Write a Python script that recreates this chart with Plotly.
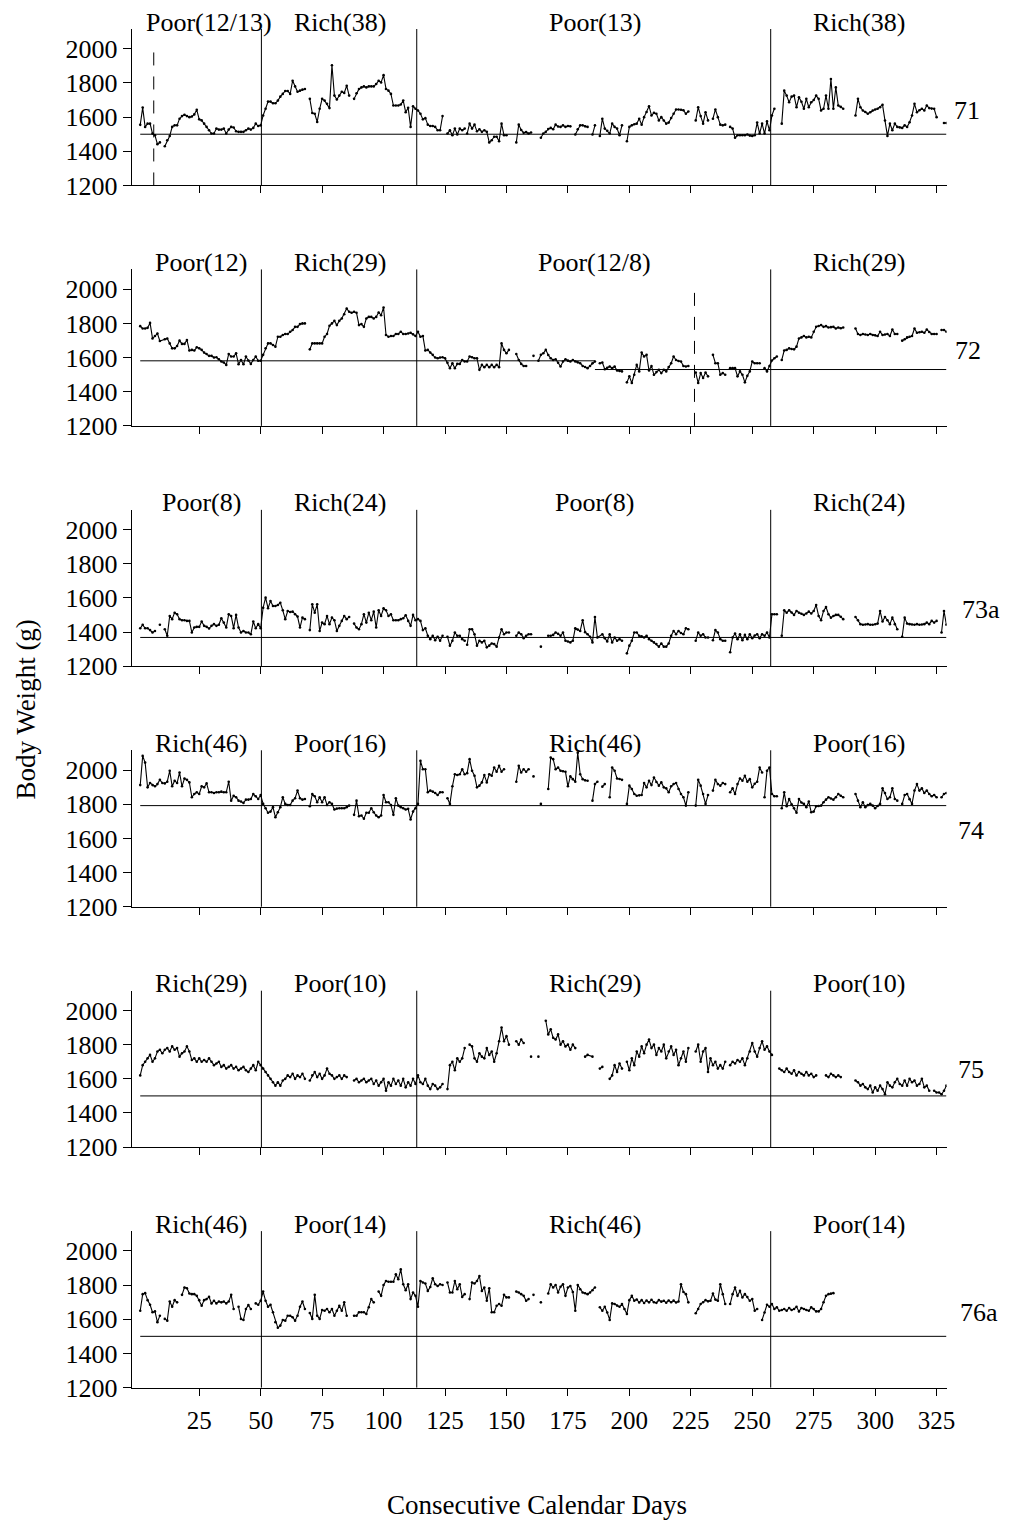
import plotly.graph_objects as go

# ---------------------------------------------------------------------------
# Daily body weight (g) of six animals, grouped in runs of consecutive
# weighings; a new run starts after days with no weighing.
# ---------------------------------------------------------------------------
bw_71 = [
    [(1,1555),(2,1656),(3,1542),(4,1562),(5,1562),(6,1504),(7,1494),(8,1442),(9,1452)],
    [(11,1430),(12,1465),(13,1490),(14,1543),(15,1552),(16,1552),(17,1591),(18,1606),(19,1614),(20,1606),
     (21,1600),(22,1604),(23,1616),(24,1643),(25,1587),(26,1581),(27,1562),(28,1543),(29,1523),(30,1504),
     (31,1504),(32,1533),(33,1527),(34,1527),(35,1533),(36,1504),(37,1527),(38,1543),(39,1539),(40,1517),
     (41,1514),(42,1514),(43,1514),(44,1523),(45,1533),(46,1527),(47,1537),(48,1562),(49,1548),(50,1552),
     (51,1610),(52,1649),(53,1691),(54,1691),(55,1681),(56,1681),(57,1697),(58,1720),(59,1736),(60,1753),
     (61,1753),(62,1736),(63,1813),(64,1780),(65,1749),(66,1755),(67,1761),(68,1765)],
    [(70,1707),(71,1624),(72,1620),(73,1572),(74,1649),(75,1707),(76,1697),(77,1678),(78,1653),(79,1904),
     (80,1726),(81,1703),(82,1726),(83,1749),(84,1742),(85,1784),(86,1726)],
    [(88,1707),(89,1740),(90,1765),(91,1774),(92,1780),(93,1774),(94,1780),(95,1780),(96,1780),(97,1794),
     (98,1813),(99,1803),(100,1846),(101,1765),(102,1755),(103,1736),(104,1668),(105,1668),(106,1668),
     (107,1674),(108,1697),(109,1629),(110,1655),(111,1543),(112,1664),(113,1649),(114,1639),(115,1620),
     (116,1587),(117,1594),(118,1556),(119,1548),(120,1548),(121,1543),(122,1523),(123,1523),(124,1606)],
    [(126,1504),(127,1523),(128,1494),(129,1533),(130,1498),(131,1533),(132,1523),(133,1533)],
    [(134,1504),(135,1562),(136,1533),(137,1556),(138,1517),(139,1529),(140,1514),(141,1523),(142,1514),
     (143,1452),(144,1465),(145,1485),(146,1485),(147,1459),(148,1562),(149,1494),(150,1494)],
    [(154,1452),(155,1556),(156,1525),(157,1508),(158,1512),(159,1504),(160,1510)],
    [(164,1479),(165,1504),(166,1514),(167,1530),(168,1537),(169,1529),(170,1556),(171,1545),(172,1543),
     (173,1552),(174,1543),(175,1548),(176,1546)],
    [(178,1498),(179,1529),(180,1552),(181,1552),(182,1546),(183,1543)],
    [(185,1498),(186,1552)],
    [(188,1490),(189,1591),(190,1533),(191,1520),(192,1504),(193,1562),(194,1543),(195,1533),(196,1494),(197,1552)],
    [(199,1459),(200,1543),(201,1552),(202,1558),(203,1562),(204,1591),(205,1556),(206,1600),(207,1630),
     (208,1664),(209,1610),(210,1625),(211,1620),(212,1581),(213,1600),(214,1580),(215,1562),(216,1568),
     (217,1595),(218,1620),(219,1645),(220,1645),(221,1643),(222,1640),(223,1620),(224,1633)],
    [(227,1581),(228,1658),(229,1606),(230,1562),(231,1629),(232,1581)],
    [(234,1591),(235,1645),(236,1600),(237,1556),(238,1552),(239,1556)],
    [(241,1543),(242,1533),(243,1479),(244,1494),(245,1494),(246,1494),(247,1494),(248,1498),(249,1492),
     (250,1490),(251,1494),(252,1568),(253,1504),(254,1562),(255,1504),(256,1575),(257,1523),(258,1610),(259,1649)],
    [(262,1562),(263,1755),(264,1726),(265,1687),(266,1720),(267,1726),(268,1658),(269,1716),(270,1690),
     (271,1649),(272,1707),(273,1658),(274,1687),(275,1700),(276,1726),(277,1707),(278,1639),(279,1649),
     (280,1726),(281,1649),(282,1823),(283,1649),(284,1774),(285,1668),(286,1660),(287,1649)],
    [(292,1610),(293,1707),(294,1658),(295,1639),(296,1630),(297,1620),(298,1629),(299,1639),(300,1645),
     (301,1649),(302,1658),(303,1672),(304,1580),(305,1490),(306,1562),(307,1523),(308,1562),(309,1543),
     (310,1540),(311,1537),(312,1552),(313,1543),(314,1570),(315,1610),(316,1678),(317,1629),(318,1640),
     (319,1649),(320,1639),(321,1668),(322,1653),(323,1650),(324,1649),(325,1600)],
    [(328,1566),(329,1566)],
]

bw_72 = [
    [(1,1784),(2,1770),(3,1770),(4,1774),(5,1803),(6,1712),(7,1726),(8,1741),(9,1697),(11,1707),(12,1712),
     (13,1683),(14,1654),(15,1654),(16,1668),(17,1699),(18,1680),(19,1680),(20,1703),(21,1641),(22,1645),
     (23,1641),(24,1660),(25,1654),(26,1645),(27,1629),(28,1621),(29,1610),(30,1610),(31,1600),(32,1602),
     (33,1590),(34,1577),(35,1571),(36,1557),(37,1621),(38,1606),(39,1606),(40,1625),(41,1561),(42,1586),
     (43,1561),(44,1606),(45,1583),(46,1563),(47,1586),(48,1606),(49,1581),(50,1581),(51,1616),(52,1654),
     (53,1683),(54,1683),(55,1674),(56,1664),(57,1722),(58,1722),(59,1732),(60,1738),(61,1738),(62,1751),
     (63,1761),(64,1780),(65,1780),(66,1796),(67,1800),(68,1800)],
    [(70,1648),(71,1683),(72,1683),(73,1683),(74,1683),(75,1683),(76,1722),(77,1738),(78,1786),(79,1800),
     (80,1815),(81,1790),(82,1815),(83,1829),(84,1854),(85,1887),(86,1868),(87,1862),(88,1868),(89,1862),
     (90,1790),(91,1796),(92,1780),(93,1829),(94,1838),(95,1838),(96,1829),(97,1838),(98,1864),(99,1848),
     (100,1893),(101,1732),(102,1722),(103,1726),(104,1726),(105,1738),(106,1738),(107,1751),(108,1738),
     (109,1738),(110,1741),(111,1745),(112,1736),(113,1726),(114,1751),(115,1722),(116,1726),(117,1641),
     (118,1645),(119,1629),(120,1616),(121,1600),(122,1596),(123,1600),(124,1602),(125,1596),(126,1570),
     (127,1538),(128,1567),(129,1538),(130,1563),(131,1563),(132,1586),(133,1577),(134,1577),(135,1606),
     (136,1602),(137,1596),(138,1596),(139,1528),(140,1557),(141,1544),(142,1557),(143,1544),(144,1557),
     (145,1544),(146,1557),(147,1544),(148,1683),(149,1645),(150,1625),(151,1645)],
    [(154,1621),(155,1586),(156,1563),(157,1551),(158,1551)],
    [(161,1610)],
    [(163,1581),(164,1616),(165,1625),(166,1645),(167,1615),(168,1596),(169,1586),(170,1590),(171,1570),
     (172,1548),(173,1577),(174,1590),(175,1582),(176,1577),(177,1586),(178,1577),(179,1572),(180,1567),
     (181,1551),(182,1545),(183,1538),(184,1551),(185,1567),(186,1577)],
    [(188,1567),(189,1571),(190,1532),(191,1540),(192,1548),(193,1538),(194,1548),(195,1524),(196,1522),(197,1519)],
    [(199,1455),(200,1490),(201,1451),(202,1499),(203,1557),(204,1519),(205,1629),(206,1606),(207,1616),
     (208,1524),(209,1551),(210,1499),(211,1515),(212,1528),(213,1509),(214,1528),(215,1519),(216,1545),
     (217,1567),(218,1606),(219,1586),(220,1580),(221,1577),(222,1551),(223,1548),(224,1551)],
    [(227,1513),(228,1451),(229,1509),(230,1480),(231,1513),(232,1490)],
    [(234,1616),(235,1567),(236,1567),(237,1499),(238,1509),(239,1499)],
    [(241,1538),(242,1538),(243,1538),(244,1490),(245,1519),(246,1499),(247,1455),(248,1493),(249,1519),
     (250,1577),(251,1567),(252,1567),(253,1567)],
    [(255,1538),(256,1519),(257,1551),(258,1583),(259,1596),(260,1606)],
    [(262,1586),(263,1641),(264,1645),(265,1654),(266,1650),(267,1648),(268,1664),(269,1712),(270,1718),
     (271,1726),(272,1718),(273,1722),(274,1718),(275,1751),(276,1780),(277,1785),(278,1790),(279,1780),
     (280,1784),(281,1776),(282,1778),(283,1780),(284,1770),(285,1776),(286,1772),(287,1776)],
    [(292,1770),(293,1738),(294,1732),(295,1738),(296,1735),(297,1732),(298,1738),(299,1732),(300,1730),
     (301,1726),(302,1751),(303,1732),(304,1735),(305,1738),(306,1726),(307,1764),(308,1738),(309,1738)],
    [(311,1699),(312,1707),(313,1718),(314,1722),(315,1726),(316,1770),(317,1745),(318,1748),(319,1751),
     (320,1745),(321,1764),(322,1750),(323,1738),(324,1738),(325,1738)],
    [(327,1761),(328,1761),(329,1751)],
]

bw_73a = [
    [(1,1423),(2,1443),(3,1423),(4,1423),(5,1412),(6,1398),(7,1407)],
    [(9,1443)],
    [(11,1417),(12,1379),(13,1495),(14,1476),(15,1514),(16,1505),(17,1476),(18,1470),(19,1470),(20,1466),
     (21,1466),(22,1398),(23,1427),(24,1431),(25,1431),(26,1462),(27,1437),(28,1431),(29,1421),(30,1437),
     (31,1447),(32,1437),(33,1443),(34,1481),(35,1456),(36,1427),(37,1505),(38,1495),(39,1423),(40,1501),
     (41,1427),(42,1398),(43,1407),(44,1398),(45,1398),(46,1388),(47,1462),(48,1423),(49,1447),(50,1423),
     (51,1543),(52,1602),(53,1540),(54,1582),(55,1553),(56,1553),(57,1559),(58,1572),(59,1528),(60,1476),
     (61,1524),(62,1518),(63,1520),(64,1505),(65,1491),(66,1427),(67,1485),(68,1476)],
    [(70,1412),(71,1563),(72,1514),(73,1563),(74,1407),(75,1456),(76,1447),(77,1495),(78,1447),(79,1485),
     (80,1470),(81,1407),(82,1437),(83,1466),(84,1495),(85,1476),(86,1489)],
    [(88,1450),(89,1427),(90,1417),(91,1447),(92,1505),(93,1456),(94,1514),(95,1470),(96,1520),(97,1427),
     (98,1528),(99,1495),(100,1540),(101,1528),(102,1495),(103,1505),(104,1470),(105,1470),(106,1470),
     (107,1476),(108,1481),(109,1499),(110,1466),(111,1437),(112,1501),(113,1470),(114,1476),(115,1466),
     (116,1412),(117,1423),(118,1379),(119,1359),(120,1379),(121,1353),(122,1373),(123,1350),(124,1379)],
    [(126,1373),(127,1321),(128,1350),(129,1398),(130,1379),(131,1379),(132,1359),(133,1350)],
    [(134,1326),(135,1417),(136,1417),(137,1388),(138,1321),(139,1350),(140,1340),(141,1350),(142,1311),
     (143,1321),(144,1334),(145,1330),(146,1315),(147,1369),(148,1417),(149,1388),(150,1398),(151,1398)],
    [(154,1379),(155,1398),(156,1388),(157,1365),(158,1379),(159,1388),(160,1388)],
    [(164,1315)],
    [(167,1379),(168,1379),(169,1384),(170,1398),(171,1390),(172,1379),(173,1398),(174,1350),(175,1345),
     (176,1340),(177,1350),(178,1423),(179,1415),(180,1407),(181,1470),(182,1400),(183,1388),(184,1373),
     (185,1340),(186,1489),(187,1369),(189,1388),(190,1365),(191,1346),(192,1388),(193,1340),(194,1369),
     (195,1350),(196,1359),(197,1350)],
    [(199,1276),(200,1321),(201,1350),(202,1398),(203,1398),(204,1379),(205,1375),(206,1369),(207,1379),
     (208,1359),(209,1350),(210,1340),(211,1330),(212,1315),(213,1334),(214,1315),(215,1315),(216,1334),
     (217,1379),(218,1407),(219,1388),(220,1407),(221,1395),(222,1388),(223,1423),(224,1417)],
    [(227,1350),(228,1398),(229,1379),(230,1388),(231,1369),(232,1369)],
    [(234,1353),(235,1412),(236,1398),(237,1359),(238,1350),(239,1350)],
    [(241,1282),(242,1369),(243,1392),(244,1359),(245,1388),(246,1353),(247,1384),(248,1359),(249,1388),
     (250,1365),(251,1380),(252,1388),(253,1365),(254,1388),(255,1379),(256,1398),(257,1369),(258,1505),
     (259,1505),(260,1505)],
    [(262,1379),(263,1528),(264,1514),(265,1528),(266,1515),(267,1501),(268,1524),(269,1514),(270,1508),
     (271,1501),(272,1509),(273,1520),(274,1509),(275,1524),(276,1559),(277,1495),(278,1470),(279,1524),
     (280,1547),(281,1505),(282,1485),(283,1495),(284,1501),(285,1501),(286,1490),(287,1476)],
    [(292,1489),(293,1470),(294,1447),(295,1443),(296,1445),(297,1447),(298,1443),(299,1443),(300,1446),
     (301,1450),(302,1524),(303,1462),(304,1489),(305,1470),(306,1447),(307,1485),(308,1447),(309,1417)],
    [(311,1373),(312,1485),(313,1450),(314,1447),(315,1445),(316,1443),(317,1447),(318,1443),(319,1445),
     (320,1447),(321,1456),(322,1447),(323,1466),(324,1456),(325,1466)],
    [(327,1398),(328,1524),(329,1443)],
]

bw_74 = [
    [(1,1912),(2,2083),(3,2044),(4,1899),(5,1924),(6,1912),(7,1905),(8,1918),(9,1943),(10,1924),(11,1922),
     (12,1932),(13,1996),(14,1905),(15,1938),(16,1924),(17,1986),(18,1905),(19,1951),(20,1943),(21,1928),
     (22,1841),(23,1860),(24,1870),(25,1860),(26,1905),(27,1899),(28,1922),(29,1870),(30,1870),(31,1866),
     (32,1870),(33,1870),(34,1874),(35,1870),(36,1870),(37,1932),(38,1821),(39,1850),(40,1841),(41,1821),
     (42,1816),(43,1808),(44,1827),(45,1827),(46,1831),(47,1860),(48,1847),(49,1831),(50,1854),(51,1802),
     (52,1777),(53,1750),(54,1757),(55,1783),(56,1724),(57,1753),(58,1783),(59,1841),(60,1802),(61,1796),
     (62,1796),(63,1821),(64,1835),(65,1880),(66,1835),(67,1827),(68,1831)],
    [(70,1788),(71,1860),(72,1847),(73,1812),(74,1841),(75,1812),(76,1841),(77,1796),(78,1812),(79,1802),
     (80,1769),(81,1775),(82,1777),(83,1777),(84,1777),(85,1783),(86,1792)],
    [(88,1738),(89,1821),(90,1730),(91,1734),(92,1715),(93,1750),(94,1750),(95,1777),(96,1753),(97,1734),
     (98,1724),(99,1734),(100,1854),(101,1812),(102,1812),(103,1796),(104,1738),(105,1835),(106,1792),
     (107,1783),(108,1777),(109,1769),(110,1773),(111,1711),(112,1757),(113,1777),(114,1802),(115,2054),
     (116,2005),(117,2005),(118,1870),(119,1880),(120,1874),(121,1866),(122,1854),(123,1870),(124,1870)],
    [(126,1835),(127,1802),(128,1905),(129,1976),(130,1971),(131,1976),(132,2005),(133,1976)],
    [(134,1982),(135,2064),(136,1996),(137,1967),(138,1899),(139,1909),(140,1928),(141,1971),(142,1928),
     (143,1976),(144,1967),(145,2015),(146,1990),(147,2025),(148,1990),(149,2005)],
    [(154,1932),(155,2025),(156,1986),(157,2005),(158,1990),(159,2005)],
    [(161,1963)],
    [(164,1802)],
    [(167,1889),(168,2073),(169,2064),(170,2005),(171,2015),(172,1996),(173,1993),(174,1990),(175,1905),
     (176,1963),(177,1947),(178,1932),(179,2102),(180,1976),(181,1947),(182,1940),(183,1938)],
    [(185,1821),(186,1918),(187,1932)],
    [(189,1903),(190,1918)],
    [(192,1841),(193,2015),(194,1996),(195,1951),(196,1948),(197,1943)],
    [(199,1802),(200,1909),(201,1889),(202,1860),(203,1850),(204,1852),(205,1854),(206,1924),(207,1899),
     (208,1938),(209,1912),(210,1957),(211,1930),(212,1909),(213,1928),(214,1899),(215,1893),(216,1870),
     (217,1905),(218,1918),(219,1924),(220,1889),(221,1860),(222,1841),(223,1792),(224,1870)],
    [(227,1792),(228,1943),(229,1909),(230,1860),(231,1802),(232,1854)],
    [(234,1880),(235,1943),(236,1918),(237,1909),(238,1924),(239,1918)],
    [(241,1870),(242,1893),(243,1860),(244,1918),(245,1951),(246,1938),(247,1967),(248,1932),(249,1947),
     (250,1899),(251,1920),(252,1932),(253,2015),(254,1986)],
    [(255,1841),(256,1996),(257,2015),(258,1860),(259,1847),(260,1847)],
    [(262,1777),(263,1870),(264,1788),(265,1831),(266,1800),(267,1777),(268,1750),(269,1831),(270,1810),
     (271,1802),(272,1783),(273,1816),(274,1753),(275,1757),(276,1788),(277,1790),(278,1792),(279,1812),
     (280,1827),(281,1841),(282,1834),(283,1827),(284,1841),(285,1860),(286,1850),(287,1841)],
    [(292,1860),(293,1821),(294,1783),(295,1812),(296,1783),(297,1795),(298,1802),(299,1792),(300,1777),
     (301,1790),(302,1802),(303,1893),(304,1866),(305,1831),(306,1841),(307,1893),(308,1831),(309,1821)],
    [(311,1802),(312,1854),(313,1860),(314,1830),(315,1802),(316,1880),(317,1918),(318,1880),(319,1893),
     (320,1866),(321,1880),(322,1860),(323,1847),(324,1854),(325,1841)],
    [(327,1841),(328,1860),(329,1866)],
]

bw_75 = [
    [(1,1620),(2,1680),(3,1700),(4,1720),(5,1740),(6,1700),(7,1720),(8,1760),(9,1770),(10,1750),(11,1770),
     (12,1780),(13,1760),(14,1790),(15,1770),(16,1780),(17,1730),(18,1750),(19,1760),(20,1790),(21,1760),
     (22,1710),(23,1720),(24,1700),(25,1720),(26,1700),(27,1710),(28,1700),(29,1720),(30,1700),(31,1680),
     (32,1690),(33,1700),(34,1670),(35,1680),(36,1660),(37,1670),(38,1680),(39,1660),(40,1670),(41,1650),
     (42,1660),(43,1670),(44,1650),(45,1640),(46,1660),(47,1680),(48,1650),(49,1700),(50,1680),(51,1660),
     (52,1640),(53,1620),(54,1600),(55,1580),(56,1560),(57,1580),(58,1560),(59,1590),(60,1600),(61,1620),
     (62,1610),(63,1630),(64,1600),(65,1620),(66,1610),(67,1630),(68,1600)],
    [(70,1590),(71,1620),(72,1640),(73,1610),(74,1630),(75,1600),(76,1620),(77,1660),(78,1630),(79,1620),
     (80,1600),(81,1610),(82,1620),(83,1600),(84,1620),(85,1610)],
    [(88,1590),(89,1600),(90,1580),(91,1590),(92,1600),(93,1580),(94,1590),(95,1600),(96,1570),(97,1590),
     (98,1560),(99,1580),(100,1600),(101,1530),(102,1580),(103,1560),(104,1600),(105,1570),(106,1590),
     (107,1560),(108,1600),(109,1550),(110,1580),(111,1560),(112,1600),(113,1570),(114,1620),(115,1580),
     (116,1570),(117,1600),(118,1560),(119,1540),(120,1570),(121,1560),(122,1540),(123,1550),(124,1570)],
    [(126,1540),(127,1680),(128,1700),(129,1650),(130,1720),(131,1700),(132,1720),(133,1780)],
    [(135,1800),(136,1790),(137,1720),(138,1700),(139,1750),(140,1730),(141,1720),(142,1780),(143,1740),
     (144,1760),(145,1700),(146,1750),(147,1820),(148,1900),(149,1820),(150,1850),(151,1800)],
    [(154,1820),(155,1800),(156,1830),(157,1810)],
    [(160,1730)],
    [(163,1730)],
    [(166,1940),(167,1860),(168,1890),(169,1840),(170,1830),(171,1860),(172,1800),(173,1820),(174,1790),
     (175,1800),(176,1770),(177,1800),(178,1780)],
    [(182,1730),(183,1740),(185,1730)],
    [(188,1660),(189,1670)],
    [(192,1600),(193,1620),(194,1680),(195,1640),(196,1690),(197,1660)],
    [(199,1700),(200,1650),(201,1720),(202,1680),(203,1760),(204,1730),(205,1790),(206,1750),(207,1800),
     (208,1830),(209,1780),(210,1800),(211,1740),(212,1780),(213,1760),(214,1800),(215,1720),(216,1760),
     (217,1790),(218,1740),(219,1770),(220,1680),(221,1720),(222,1760),(223,1700),(224,1780)],
    [(227,1760),(228,1800),(229,1700),(230,1760),(231,1780),(232,1640),(233,1720),(234,1680),(235,1700),
     (236,1660),(237,1680),(238,1660),(239,1700)],
    [(241,1680),(242,1700),(243,1690),(244,1710),(245,1700),(246,1720),(247,1680),(248,1720),(249,1760),
     (250,1810),(251,1760),(252,1730),(253,1780),(254,1820),(255,1770),(256,1790),(257,1760),(258,1740)],
    [(261,1660),(262,1650),(263,1640),(264,1660),(265,1640),(266,1630),(267,1650),(268,1620),(269,1640),
     (270,1630),(271,1620),(272,1640),(273,1620),(274,1630),(275,1610),(276,1620)],
    [(280,1620),(281,1610),(282,1630),(283,1620),(284,1610),(285,1620),(286,1610)],
    [(292,1590),(293,1580),(294,1560),(295,1570),(296,1550),(297,1540),(298,1560),(299,1520),(300,1550),
     (301,1530),(302,1560),(303,1540),(304,1510),(305,1580),(306,1560),(307,1550),(308,1580),(309,1600),
     (310,1570),(311,1560),(312,1590),(313,1560),(314,1600),(315,1580),(316,1590),(317,1560),(318,1570),
     (319,1600),(320,1550),(321,1560),(322,1530)],
    [(324,1530),(325,1520),(326,1520),(327,1510),(328,1530),(329,1560)],
]

bw_76a = [
    [(1,1650),(2,1747),(3,1753),(4,1712),(5,1685),(6,1641),(7,1646),(8,1583),(9,1621)],
    [(11,1602),(12,1592),(13,1704),(14,1673),(15,1712),(16,1699)],
    [(18,1743),(19,1786),(20,1782),(21,1751),(22,1747),(23,1747),(24,1737),(25,1712),(26,1679),(27,1712),
     (28,1718),(29,1731),(30,1693),(31,1708),(32,1693),(33,1704),(34,1699),(35,1704),(36,1693),(37,1704),
     (38,1743),(39,1660)],
    [(41,1673),(42,1602),(43,1596),(44,1660),(45,1683),(46,1660)],
    [(48,1693),(49,1685),(50,1708),(51,1762),(52,1708),(53,1673),(54,1685),(55,1641),(56,1583),(57,1550),
     (58,1563),(59,1596),(60,1592),(61,1621),(62,1621),(63,1612),(64,1592),(65,1621),(66,1673),(67,1704),(68,1660)],
    [(70,1637),(71,1602),(72,1743),(73,1621),(74,1602),(75,1654),(76,1650),(77,1660),(78,1641),(79,1660),
     (80,1621),(81,1650),(82,1679),(83,1650),(84,1699),(85,1621)],
    [(88,1621),(89,1621),(90,1641),(91,1641),(92,1641),(93,1631),(94,1670),(95,1718),(96,1699)],
    [(98,1762),(99,1737),(100,1801),(101,1824),(102,1820),(103,1820),(104,1820),(105,1863),(106,1834),
     (107,1892),(108,1805),(109,1770),(110,1805),(111,1718),(112,1757),(113,1737),(114,1673),(115,1824),
     (116,1815),(117,1809),(118,1766),(119,1789),(120,1840),(121,1805),(122,1795),(123,1805),(124,1801)],
    [(126,1815),(127,1757),(128,1757),(129,1824),(130,1776),(131,1805),(132,1731),(133,1747)],
    [(135,1718),(136,1815),(137,1809),(138,1824),(139,1853),(140,1766),(141,1786),(142,1708),(143,1782),
     (144,1641),(145,1641),(146,1679),(147,1689),(148,1679),(149,1743),(150,1728),(151,1728)],
    [(154,1762),(155,1757),(156,1747),(157,1737),(158,1708),(159,1718)],
    [(161,1743)],
    [(164,1699)],
    [(167,1751),(168,1805),(169,1786),(170,1801),(171,1757),(172,1790),(173,1805),(174,1737),(175,1786),
     (176,1795),(177,1760),(178,1650),(179,1801),(180,1776),(181,1757),(182,1752),(183,1747),(184,1757),
     (185,1770),(186,1786)],
    [(188,1670),(189,1650),(190,1673),(191,1640),(192,1596),(193,1693),(194,1689),(195,1680),(196,1673),
     (197,1689),(198,1660),(199,1631),(200,1712),(201,1737),(202,1708),(203,1716),(204,1698),(205,1712),
     (206,1695),(207,1710),(208,1699),(209,1714),(210,1700),(211,1696),(212,1712),(213,1703),(214,1708),
     (215,1697),(216,1710),(217,1700),(218,1709),(219,1698),(220,1704),(221,1805),(222,1760),(223,1747),(224,1699)],
    [(227,1635),(228,1660),(229,1689),(230,1700),(231,1712),(232,1705),(233,1708),(234,1751),(235,1715),
     (236,1708),(237,1805),(238,1747),(239,1689)],
    [(241,1689),(242,1747),(243,1786),(244,1737),(245,1766),(246,1728),(247,1747),(248,1730),(249,1708),
     (250,1718),(251,1650),(252,1660)],
    [(254,1596),(255,1640),(256,1685),(257,1673),(258,1689),(259,1660),(260,1670),(261,1650),(262,1654),
     (263,1660),(264,1650),(265,1666),(266,1654),(267,1660),(268,1673),(269,1646),(270,1666),(271,1660),
     (272,1654),(273,1650),(274,1670),(275,1660),(276,1646),(277,1646),(278,1660),(279,1700),(280,1737),
     (281,1747),(282,1750),(283,1753)],
]

animals = ["71", "72", "73a", "74", "75", "76a"]
weights = [bw_71, bw_72, bw_73a, bw_74, bw_75, bw_76a]

# Diet phase labels per animal (four phases each)
phase_labels = [
    ["Poor(12/13)", "Rich(38)", "Poor(13)", "Rich(38)"],
    ["Poor(12)", "Rich(29)", "Poor(12/8)", "Rich(29)"],
    ["Poor(8)", "Rich(24)", "Poor(8)", "Rich(24)"],
    ["Rich(46)", "Poor(16)", "Rich(46)", "Poor(16)"],
    ["Rich(29)", "Poor(10)", "Rich(29)", "Poor(10)"],
    ["Rich(46)", "Poor(14)", "Rich(46)", "Poor(14)"],
]
phase_label_days = [25.8, 82.3, 185.9, 293.5]
first_label_day = [29.0, 25.8, 25.8, 25.8, 25.8, 25.8]

# Days on which the diet switched
phase_changes = [50.3, 113.5, 257.5]
# Within-phase ration changes (dashed markers): (panel index, day)
ration_changes = [(0, 6.5), (1, 226.5)]

# Baseline weights (g): (panel index, start day, end day, weight)
baselines = [
    (0, 1, 329, 1500),
    (1, 1, 186, 1581),
    (1, 186, 329, 1530),
    (2, 1, 329, 1369),
    (3, 1, 329, 1792),
    (4, 1, 329, 1500),
    (5, 1, 329, 1500),
]

y_ticks = [1200, 1400, 1600, 1800, 2000]
x_ticks = [25, 50, 75, 100, 125, 150, 175, 200, 225, 250, 275, 300, 325]

# ---------------------------------------------------------------------------
W, H = 1013, 1532
FONT = "Liberation Serif, Times New Roman, serif"
panel_bottom_px = [187.3 + 242.8 * k for k in range(6)]
panel_height_px = 158.0
x_dom = [133 / W, 955 / W]
x_range = [-2.42, 329.03]
y_range = [1200, 2116]

fig = go.Figure()
layout = dict(
    width=W, height=H, margin=dict(l=0, r=0, t=0, b=0),
    paper_bgcolor="white", plot_bgcolor="white",
    showlegend=False, font=dict(family=FONT, color="black", size=26),
)
shapes, annotations = [], []

for k, (name, runs) in enumerate(zip(animals, weights)):
    sfx = "" if k == 0 else str(k + 1)
    xs, ys = [], []
    for run in runs:
        for d, w in run:
            xs.append(d)
            ys.append(w)
        xs.append(None)
        ys.append(None)
    fig.add_trace(go.Scatter(
        x=xs, y=ys, mode="lines+markers", connectgaps=False,
        line=dict(color="black", width=1.1),
        marker=dict(color="black", size=2.6),
        xaxis="x" + sfx, yaxis="y" + sfx, hoverinfo="skip",
    ))

    b = panel_bottom_px[k]
    ydom = [1 - b / H, 1 - (b - panel_height_px) / H]
    last = k == len(animals) - 1
    layout["xaxis" + sfx] = dict(
        domain=x_dom, range=x_range, anchor="y" + sfx,
        showline=True, linecolor="black", linewidth=1,
        ticks="outside", ticklen=7, tickwidth=1, tickcolor="black",
        tickvals=x_ticks, showticklabels=last, showgrid=False, zeroline=False,
        tickfont=dict(family=FONT, size=25, color="black"),
        ticklabelstandoff=3,
    )
    layout["yaxis" + sfx] = dict(
        domain=ydom, range=y_range, anchor="x" + sfx,
        showline=True, linecolor="black", linewidth=1,
        ticks="outside", ticklen=8, tickwidth=1, tickcolor="black",
        tickvals=y_ticks, showgrid=False, zeroline=False,
        tickfont=dict(family=FONT, size=26, color="black"),
    )

    for d in phase_changes:
        shapes.append(dict(type="line", xref="x" + sfx, yref="y" + sfx + " domain",
                           x0=d, x1=d, y0=0, y1=1, line=dict(color="black", width=1)))

    for j, lab in enumerate(phase_labels[k]):
        xd = first_label_day[k] if j == 0 else phase_label_days[j]
        annotations.append(dict(
            text=lab, xref="x" + sfx, yref="y" + sfx + " domain", x=xd, y=1,
            yanchor="middle", yshift=7, showarrow=False,
            font=dict(family=FONT, size=26, color="black")))

for k, d in ration_changes:
    sfx = "" if k == 0 else str(k + 1)
    shapes.append(dict(type="line", xref="x" + sfx, yref="y" + sfx,
                       x0=d, x1=d, y0=1200, y1=2038,
                       line=dict(color="black", width=1, dash="13px,11px")))

for k, d0, d1, w in baselines:
    sfx = "" if k == 0 else str(k + 1)
    shapes.append(dict(type="line", xref="x" + sfx, yref="y" + sfx,
                       x0=d0, x1=d1, y0=w, y1=w, line=dict(color="black", width=1)))

# Animal IDs to the right of each panel
id_pos_px = [(976, 111.7), (977, 354), (990, 616), (980, 838.7), (980, 1080), (988, 1325)]
for name, (px, py) in zip(animals, id_pos_px):
    annotations.append(dict(text=name, xref="paper", yref="paper", x=px / W, y=1 - py / H,
                            xanchor="center", yanchor="middle", showarrow=False,
                            font=dict(family=FONT, size=26, color="black")))

annotations.append(dict(text="Body Weight (g)", xref="paper", yref="paper",
                        x=26 / W, y=1 - 716.7 / H, textangle=-90, showarrow=False,
                        xanchor="center", yanchor="middle",
                        font=dict(family=FONT, size=27, color="black")))
annotations.append(dict(text="Consecutive Calendar Days", xref="paper", yref="paper",
                        x=542 / W, y=1 - 1520 / H, showarrow=False,
                        xanchor="center", yanchor="middle",
                        font=dict(family=FONT, size=27, color="black")))

layout["shapes"] = shapes
layout["annotations"] = annotations
fig.update_layout(**layout)
fig.write_html("out.html")
